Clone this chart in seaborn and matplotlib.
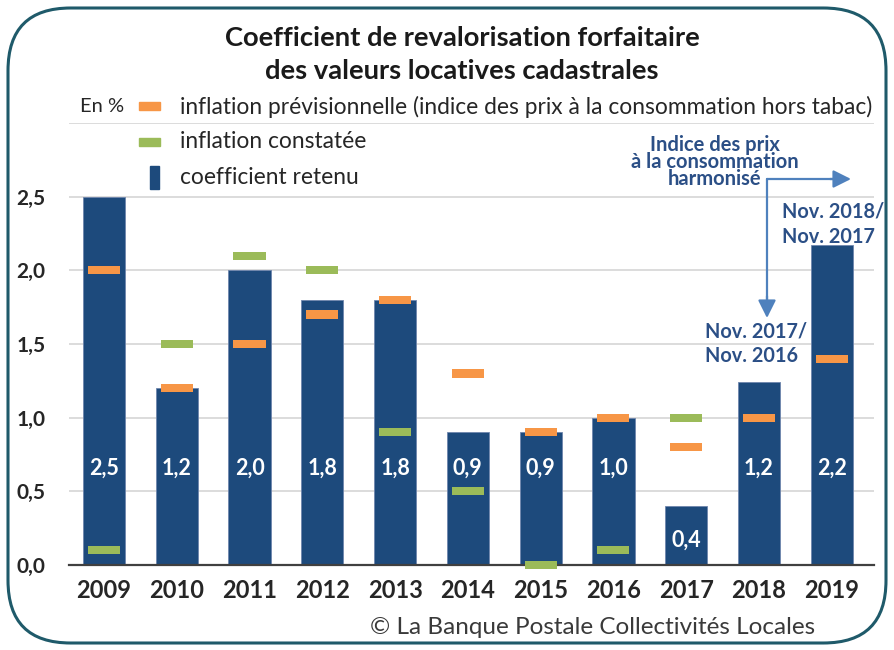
import matplotlib
matplotlib.use("Agg")
import matplotlib.pyplot as plt
from matplotlib.patches import FancyBboxPatch, Rectangle
import numpy as np
import pandas as pd
import seaborn as sns

# ---- data ----
years = ["2009", "2010", "2011", "2012", "2013", "2014", "2015", "2016", "2017", "2018", "2019"]
coef_retenu = [2.5, 1.2, 2.0, 1.8, 1.8, 0.9, 0.9, 1.0, 0.4, 1.24, 2.17]
coef_labels = ["2,5", "1,2", "2,0", "1,8", "1,8", "0,9", "0,9", "1,0", "0,4", "1,2", "2,2"]
inflation_prev = [2.0, 1.2, 1.5, 1.7, 1.8, 1.3, 0.9, 1.0, 0.8, 1.0, 1.4]
inflation_const = [0.1, 1.5, 2.1, 2.0, 0.9, 0.5, 0.0, 0.1, 1.0, None, None]
y_ticks = [0.0, 0.5, 1.0, 1.5, 2.0, 2.5]
y_tick_labels = ["0,0", "0,5", "1,0", "1,5", "2,0", "2,5"]

BLUE = "#1d4a7c"
ORANGE = "#f79646"
GREEN = "#9bbb59"
NAVY_TXT = "#2b4f86"
ARROW = "#4f81bd"

sns.set_theme(style="white")
plt.rcParams["font.family"] = ["Lato", "DejaVu Sans"]

W, H = 894, 650
fig = plt.figure(figsize=(W / 100, H / 100), dpi=100)

def fx(px):
    return px / W

def fy(py):
    return 1 - py / H

# rounded frame
frame = FancyBboxPatch((fx(8), fy(643)), fx(878), 635 / H,
                       boxstyle="round,pad=0,rounding_size=0.07",
                       transform=fig.transFigure, fill=False,
                       edgecolor="#1f5a6a", linewidth=2.2,
                       mutation_aspect=W / H)
fig.patches.append(frame)

ax = fig.add_axes([fx(69), fy(565), fx(874) - fx(69), (565 - 123) / H])

df = pd.DataFrame({"year": years, "coef": coef_retenu})
sns.barplot(data=df, x="year", y="coef", color=BLUE, saturation=1,
            width=0.58, ax=ax, zorder=2, edgecolor="#6f86ad", linewidth=0.6)

mh = 0.055
mw = 0.44
xs = np.arange(len(years))
ax.bar(xs, [mh] * len(years), bottom=[v - mh / 2 for v in inflation_prev],
       width=mw, color=ORANGE, zorder=6, linewidth=0, clip_on=False)
gx = [i for i, v in enumerate(inflation_const) if v is not None]
gv = [v for v in inflation_const if v is not None]
ax.bar(gx, [mh] * len(gx), bottom=[v - mh / 2 for v in gv],
       width=mw, color=GREEN, zorder=6, linewidth=0, clip_on=False)

# value labels
for i, (v, lab) in enumerate(zip(coef_retenu, coef_labels)):
    ly = 0.66 if v > 0.8 else v / 2 - 0.03
    ax.text(i, ly, lab, color="white", fontsize=15.5, fontweight="bold",
            ha="center", va="center", zorder=7)

ax.set_xlim(-0.48, 10.58)
ax.set_ylim(0, 3.0)
ax.set_yticks(y_ticks + [3.0])
ax.set_yticklabels(y_tick_labels + [""])
ax.grid(axis="y", color="#d9d9d9", linewidth=1.3, zorder=0)
ax.set_axisbelow(True)
for s in ["top", "right", "left"]:
    ax.spines[s].set_visible(False)
ax.spines["bottom"].set_color("#404040")
ax.spines["bottom"].set_linewidth(1.6)
ax.spines["bottom"].set_zorder(5)
ax.set_xlabel("")
ax.set_ylabel("")
ax.tick_params(axis="both", length=0)
ax.tick_params(axis="y", labelsize=15, labelcolor="#262626", pad=17)
ax.tick_params(axis="x", labelsize=17, labelcolor="#262626", pad=10)
for t in ax.get_yticklabels() + ax.get_xticklabels():
    t.set_fontweight("bold")

# title
fig.text(fx(462), fy(38), "Coefficient de revalorisation forfaitaire",
         ha="center", va="center", fontsize=19.7, fontweight="bold", color="#1a1a1a")
fig.text(fx(462), fy(71), "des valeurs locatives cadastrales",
         ha="center", va="center", fontsize=19.7, fontweight="bold", color="#1a1a1a")

# legend
fig.text(fx(80), fy(106), "En %", ha="left", va="center", fontsize=14.5, color="#262626")
fig.patches.append(Rectangle((fx(139), fy(110)), fx(21), 8 / H, color=ORANGE,
                             transform=fig.transFigure))
fig.text(fx(180), fy(107), "inflation prévisionnelle (indice des prix à la consommation hors tabac)",
         ha="left", va="center", fontsize=16.4, color="#262626")
fig.patches.append(Rectangle((fx(139), fy(146)), fx(21), 8 / H, color=GREEN,
                             transform=fig.transFigure))
fig.text(fx(180), fy(142), "inflation constatée",
         ha="left", va="center", fontsize=16.4, color="#262626")
fig.patches.append(Rectangle((fx(150), fy(189)), fx(9), 23 / H, color=BLUE,
                             transform=fig.transFigure))
fig.text(fx(180), fy(178), "coefficient retenu",
         ha="left", va="center", fontsize=16.4, color="#262626")

# annotations
fig.text(fx(715), fy(162), "Indice des prix\nà la consommation\nharmonisé",
         ha="center", va="center", fontsize=14.5, fontweight="bold",
         color=NAVY_TXT, linespacing=0.8)
fig.add_artist(plt.Line2D([fx(767), fx(767)], [fy(179), fy(300)],
                          transform=fig.transFigure, color=ARROW, lw=1.6))
fig.add_artist(plt.Line2D([fx(767), fx(835)], [fy(179), fy(179)],
                          transform=fig.transFigure, color=ARROW, lw=1.6))
ax.annotate("", xy=(fx(767), fy(318)), xytext=(fx(767), fy(296)),
            xycoords="figure fraction", textcoords="figure fraction",
            arrowprops=dict(arrowstyle="-|>,head_length=0.9,head_width=0.45",
                            color=ARROW, lw=1.6, shrinkA=0, shrinkB=0))
ax.annotate("", xy=(fx(851), fy(179)), xytext=(fx(830), fy(179)),
            xycoords="figure fraction", textcoords="figure fraction",
            arrowprops=dict(arrowstyle="-|>,head_length=0.9,head_width=0.45",
                            color=ARROW, lw=1.6, shrinkA=0, shrinkB=0))
fig.text(fx(782), fy(212), "Nov. 2018/", ha="left", va="center",
         fontsize=14.3, fontweight="bold", color=NAVY_TXT)
fig.text(fx(782), fy(237), "Nov. 2017", ha="left", va="center",
         fontsize=14.3, fontweight="bold", color=NAVY_TXT)
fig.text(fx(705), fy(331), "Nov. 2017/", ha="left", va="center",
         fontsize=14.3, fontweight="bold", color=NAVY_TXT)
fig.text(fx(705), fy(356), "Nov. 2016", ha="left", va="center",
         fontsize=14.3, fontweight="bold", color=NAVY_TXT)

fig.text(fx(815), fy(627), "© La Banque Postale Collectivités Locales",
         ha="right", va="center", fontsize=17.5, color="#3a3a3a")

fig.savefig("out.png", dpi=100)
